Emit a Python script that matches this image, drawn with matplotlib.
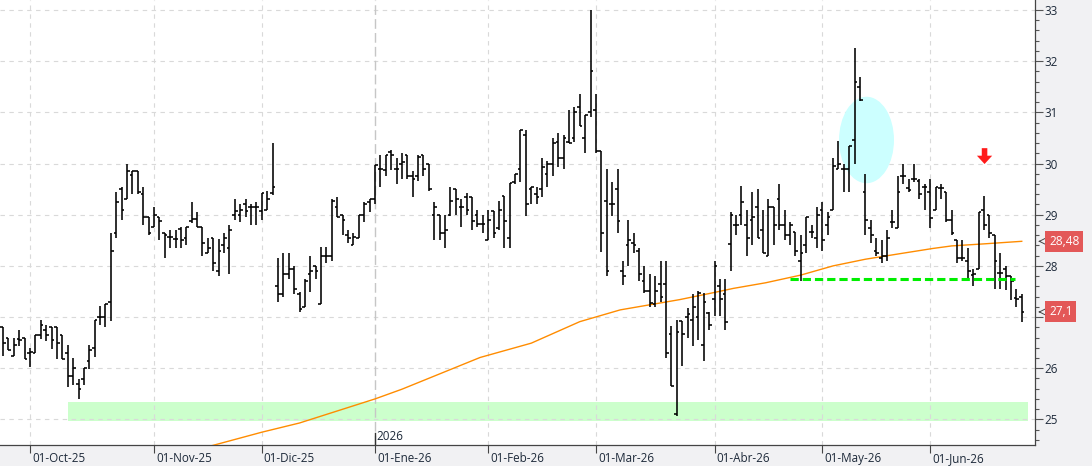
import numpy as np
import pandas as pd
import matplotlib
matplotlib.use('Agg')
import matplotlib.pyplot as plt
import matplotlib.transforms as mtransforms
from matplotlib.patches import Ellipse, Rectangle
from matplotlib.ticker import MultipleLocator

plt.rcParams['font.family'] = ['Open Sans', 'DejaVu Sans']

# trading calendar (market holidays skipped)
holidays = ['2025-12-25', '2025-12-26', '2026-01-01', '2026-04-03', '2026-04-06', '2026-05-01']
dates = pd.bdate_range('2025-09-24', '2026-06-24', freq='C', holidays=holidays)

month_labels = ['01-Oct-25', '01-Nov-25', '01-Dic-25', '01-Ene-26', '01-Feb-26',
                '01-Mar-26', '01-Abr-26', '01-May-26', '01-Jun-26']
price_ticks = [25, 26, 27, 28, 29, 30, 31, 32, 33]

# daily OHLC
opens = [26.80, 26.60, 26.23, 26.58, 26.60, 26.30, 26.30, 26.65, 26.75, 26.80,
         26.80, 26.65, 26.30, 25.85, 25.69, 25.78, 26.14, 26.39, 27.00, 27.00,
         27.29, 28.65, 29.51, 29.31, 29.77, 29.86, 29.41, 28.96, 28.75, 28.96,
         28.65, 28.56, 28.52, 28.72, 28.55, 28.87, 28.91, 28.75, 28.25, 28.55,
         27.90, 28.41, 28.35, 29.00, 29.00, 29.20, 29.15, 29.15, 29.07, 29.09,
         29.42, 27.60, 27.46, 27.84, 27.94, 27.46, 27.19, 27.84, 28.00, 27.26,
         28.19, 28.19, 29.16, 29.00, 28.60, 28.41, 28.55, 29.00, 29.25, 29.31,
         29.90, 29.87, 30.23, 29.90, 30.00, 30.16, 29.76, 29.76, 30.16, 30.00,
         29.00, 29.00, 28.65, 29.00, 29.51, 29.15, 29.35, 29.35, 29.00, 28.81,
         28.51, 29.08, 28.74, 29.36, 28.54, 29.63, 29.90, 30.56, 29.50, 29.41,
         29.50, 29.80, 30.00, 30.43, 30.10, 30.43, 30.50, 31.10, 30.50, 31.00,
         31.05, 30.25, 29.26, 29.20, 29.50, 27.90, 28.41, 28.45, 28.30, 27.70,
         27.50, 27.26, 27.65, 27.65, 26.66, 25.11, 26.92, 27.00, 26.95, 27.00,
         26.46, 27.07, 27.35, 27.60, 27.46, 28.42, 28.80, 29.00, 28.80, 28.90,
         29.15, 28.70, 28.19, 29.15, 29.31, 28.80, 28.60, 28.66, 28.10, 28.40,
         28.66, 28.55, 29.10, 28.80, 29.09, 29.90, 29.90, 29.90, 30.45, 31.50,
         29.45, 28.74, 28.29, 28.16, 28.20, 28.85, 28.74, 29.76, 29.52, 29.70,
         29.65, 29.54, 29.45, 29.10, 29.52, 29.44, 28.89, 28.51, 28.15, 28.09,
         27.83, 27.93, 29.10, 29.00, 28.60, 27.86, 27.93, 27.80, 27.37, 27.40]

highs = [26.80, 26.60, 26.60, 26.75, 26.60, 26.39, 26.65, 26.94, 26.85, 26.80,
         26.80, 26.65, 26.46, 26.20, 25.78, 26.00, 26.45, 26.95, 27.21, 27.26,
         28.65, 29.45, 29.54, 30.00, 29.86, 29.86, 29.55, 28.96, 29.16, 28.96,
         28.65, 28.71, 28.71, 28.75, 28.75, 29.25, 29.06, 28.75, 28.55, 28.55,
         28.52, 28.65, 28.80, 29.31, 29.20, 29.31, 29.20, 29.25, 29.42, 29.46,
         30.41, 28.16, 28.26, 28.26, 27.99, 27.48, 27.75, 28.20, 28.00, 28.36,
         28.36, 29.31, 29.35, 29.00, 28.71, 28.65, 29.00, 29.25, 29.31, 29.97,
         30.16, 30.16, 30.26, 30.10, 30.20, 30.16, 29.86, 30.16, 30.16, 30.00,
         29.25, 29.00, 29.00, 29.55, 29.51, 29.31, 29.42, 29.35, 29.10, 29.00,
         29.10, 29.08, 29.26, 29.36, 29.62, 29.80, 30.66, 30.66, 29.54, 29.54,
         30.10, 30.04, 30.50, 30.60, 30.56, 31.05, 31.10, 31.35, 30.95, 33.00,
         31.35, 30.25, 29.90, 29.64, 29.90, 28.10, 28.90, 28.64, 28.35, 28.00,
         27.85, 27.80, 28.10, 28.10, 26.82, 26.95, 26.92, 27.18, 27.46, 27.50,
         27.47, 27.10, 28.10, 27.75, 27.75, 29.05, 29.00, 29.56, 29.10, 29.45,
         29.50, 29.10, 29.30, 29.15, 29.60, 29.10, 28.85, 28.66, 28.60, 28.96,
         28.80, 29.15, 29.25, 29.05, 30.11, 30.44, 30.00, 30.35, 32.26, 31.70,
         29.80, 28.90, 28.55, 28.51, 28.70, 29.10, 29.75, 30.00, 29.70, 30.00,
         29.70, 29.60, 29.70, 29.54, 29.60, 29.44, 29.10, 28.51, 28.51, 28.35,
         27.93, 29.05, 29.36, 29.00, 28.60, 28.25, 27.99, 27.80, 27.55, 27.46]

lows = [26.23, 26.35, 26.23, 26.44, 26.19, 26.03, 26.30, 26.57, 26.54, 26.38,
        26.19, 26.19, 25.64, 25.68, 25.39, 25.68, 25.99, 26.22, 26.85, 26.80,
        26.93, 28.54, 28.90, 29.31, 29.41, 29.41, 28.79, 28.60, 28.75, 28.50,
        28.15, 28.35, 28.35, 28.35, 28.40, 28.84, 28.75, 28.19, 28.25, 27.90,
        27.80, 28.25, 27.84, 28.89, 28.86, 28.95, 28.79, 28.80, 28.90, 29.09,
        29.39, 27.29, 27.39, 27.75, 27.45, 27.09, 27.19, 27.48, 27.75, 27.26,
        28.06, 28.10, 28.96, 28.60, 28.45, 28.41, 28.55, 28.86, 29.06, 29.20,
        29.55, 29.76, 29.88, 29.60, 29.70, 29.70, 29.35, 29.66, 29.76, 29.46,
        28.50, 28.50, 28.35, 28.97, 29.00, 28.75, 29.00, 28.71, 28.75, 28.64,
        28.51, 28.54, 28.70, 28.35, 28.35, 29.60, 29.63, 28.98, 29.20, 29.20,
        29.34, 29.54, 29.75, 29.94, 29.90, 30.40, 30.43, 30.74, 30.20, 30.90,
        30.20, 28.28, 27.80, 28.98, 28.64, 27.63, 28.00, 28.25, 27.70, 27.47,
        27.20, 27.20, 27.30, 26.20, 25.65, 25.07, 26.04, 26.60, 26.43, 26.55,
        26.14, 26.74, 27.03, 27.03, 26.74, 27.90, 28.60, 28.80, 28.19, 28.40,
        28.55, 28.25, 28.19, 28.40, 28.70, 28.50, 28.40, 28.20, 27.70, 28.25,
        28.55, 28.35, 28.30, 28.60, 29.09, 29.90, 29.44, 29.44, 30.00, 31.22,
        28.60, 28.45, 28.20, 28.06, 28.09, 28.74, 28.74, 29.60, 29.44, 29.63,
        29.30, 29.10, 28.74, 29.10, 29.30, 28.86, 28.60, 28.06, 28.09, 27.70,
        27.60, 27.93, 28.70, 28.54, 27.55, 27.55, 27.53, 27.34, 27.20, 26.90]

closes = [26.50, 26.36, 26.46, 26.56, 26.19, 26.31, 26.65, 26.85, 26.65, 26.56,
          26.50, 26.19, 25.85, 26.00, 25.60, 26.00, 26.35, 26.95, 27.00, 27.26,
          28.29, 29.25, 29.10, 29.86, 29.86, 29.45, 28.96, 28.65, 29.00, 28.87,
          28.60, 28.56, 28.52, 28.50, 28.75, 28.91, 28.75, 28.45, 28.35, 28.06,
          28.29, 28.55, 28.71, 29.07, 29.10, 29.07, 29.15, 29.15, 29.42, 29.31,
          29.55, 27.46, 27.84, 27.94, 27.55, 27.16, 27.71, 27.90, 27.90, 28.19,
          28.19, 29.27, 28.96, 28.90, 28.54, 28.56, 29.00, 29.20, 29.30, 29.97,
          29.90, 30.16, 30.16, 29.90, 30.02, 29.76, 29.69, 30.13, 29.90, 29.50,
          29.15, 28.65, 28.71, 29.27, 29.31, 29.15, 29.10, 28.88, 28.81, 28.81,
          28.90, 28.64, 29.10, 28.87, 29.62, 29.80, 30.66, 29.20, 29.54, 29.35,
          29.94, 30.00, 30.40, 30.10, 30.50, 30.40, 31.00, 30.74, 30.95, 31.80,
          30.24, 28.64, 27.90, 29.20, 28.87, 27.80, 28.50, 28.40, 27.85, 27.50,
          27.28, 27.50, 27.40, 26.30, 25.66, 26.70, 26.66, 27.06, 27.20, 27.47,
          27.30, 26.85, 28.00, 27.35, 26.90, 29.00, 28.80, 29.24, 28.55, 28.96,
          28.55, 28.25, 29.15, 28.80, 28.80, 28.60, 28.80, 28.30, 28.25, 28.96,
          28.66, 29.00, 28.50, 28.96, 29.95, 30.00, 29.90, 30.35, 31.60, 31.24,
          28.90, 28.60, 28.25, 28.20, 28.55, 28.85, 29.45, 29.76, 29.49, 29.70,
          29.40, 29.54, 28.94, 29.54, 29.52, 28.89, 28.64, 28.15, 28.15, 27.90,
          27.85, 29.05, 28.80, 28.64, 28.10, 27.86, 27.80, 27.70, 27.35, 27.10]

# long moving average, read at a few bars
ma_idx = [38.5, 48, 55, 69, 74, 88.5, 98, 107, 114.5, 120, 125.5, 131.5, 135.5,
          141.5, 148, 154, 160, 166.5, 172.5, 176, 182, 189]
ma_val = [24.48, 24.75, 24.93, 25.40, 25.59, 26.21, 26.49, 26.91, 27.14, 27.24,
          27.34, 27.47, 27.56, 27.67, 27.82, 28.00, 28.13, 28.24, 28.34, 28.39,
          28.43, 28.48]

# drawn annotations
zone_lo, zone_hi = 24.96, 25.34
zone_from, zone_to = 12, 190.2
support = 27.74
support_from, support_to = 146, 187.7
circle_x, circle_y = 160.2, 30.46
arrow_x, arrow_top, arrow_tip = 182.1, 30.30, 29.99

x = np.arange(len(dates))
starts = [i for i in range(1, len(dates)) if dates[i].month != dates[i - 1].month]
flags = [ma_val[-1], closes[-1]]

fig = plt.figure(figsize=(10.92, 4.66), dpi=100, facecolor='#f1f1f3')
ax = fig.add_axes([0, 21 / 466, 1035 / 1092, 445 / 466])
ax.set_facecolor('white')
ax.set_xlim(-0.57, 191.46)
ax.set_ylim(24.5, 33.195)

# grid
for p in price_ticks:
    ax.axhline(p, color='#d9d9d9', lw=0.8, ls=(0, (4, 4)), zorder=1)
for i in starts:
    if dates[i].month == 1:
        ax.axvline(i, color='#c6c6c6', lw=1.0, ls=(0, (7, 3)), zorder=1)
        ax.plot([i, i], [24.5, 24.74], color='#333333', lw=1.0, zorder=6)
        ax.text(i + 0.35, 24.60, str(dates[i].year), fontsize=8.4, color='#1e2a3a',
                ha='left', va='baseline', zorder=6)
    else:
        ax.axvline(i, color='#d9d9d9', lw=0.8, ls=(0, (4, 4)), zorder=1)

ax.add_patch(Rectangle((zone_from, zone_lo), zone_to - zone_from, zone_hi - zone_lo,
                       fc='#ccffcc', ec='none', zorder=0.5))
ax.add_patch(Ellipse((circle_x, circle_y), 10.2, 1.69, fc='#ccffff', ec='none', zorder=2))

# OHLC bars
ax.vlines(x, lows, highs, color='black', lw=1.15, zorder=4)
ax.hlines(opens, x - 0.5, x, color='black', lw=1.15, zorder=4)
ax.hlines(closes, x, x + 0.5, color='black', lw=1.15, zorder=4)

ax.plot(ma_idx, ma_val, color='#ff8c00', lw=1.0, zorder=3)

ax.plot([support_from, support_to], [support, support], color='#00ee00', lw=2.2,
        ls=(0, (2.7, 1.3)), dash_capstyle='butt', zorder=5)

ax.annotate('', xy=(arrow_x, arrow_tip), xytext=(arrow_x, arrow_top),
            arrowprops=dict(facecolor='#ff1a1a', edgecolor='none', width=4,
                            headwidth=11, headlength=6, shrink=0), zorder=6)

# axes styling
for s in ['left', 'top']:
    ax.spines[s].set_visible(False)
for s in ['right', 'bottom']:
    ax.spines[s].set_color('#444444')
    ax.spines[s].set_linewidth(0.9)

# price labels hidden where a value flag sits on top of them
ylabels = [str(p) if min(abs(p - f) for f in flags) > 0.3 else '' for p in price_ticks]
ax.yaxis.tick_right()
ax.set_yticks(price_ticks)
ax.set_yticklabels(ylabels)
ax.yaxis.set_minor_locator(MultipleLocator(0.2))
ax.tick_params(axis='y', which='major', length=5.5, width=0.8, color='#555555',
               pad=1.5, labelsize=8.4, labelcolor='#1e2a3a')
ax.tick_params(axis='y', which='minor', length=3, width=0.8, color='#555555')

ax.set_xticks(starts)
ax.set_xticklabels(month_labels)
ax.tick_params(axis='x', length=5.8, width=0.8, color='#444444', pad=-0.8,
               labelsize=8.4, labelcolor='#1e2a3a')
shift = mtransforms.ScaledTranslation(0.02, 0, fig.dpi_scale_trans)
for lab in ax.get_xticklabels():
    lab.set_ha('left')
    lab.set_transform(lab.get_transform() + shift)

# last value flags on the price axis
trans = mtransforms.blended_transform_factory(ax.transAxes, ax.transData)
for v in flags:
    txt = ('%.2f' % v).rstrip('0').replace('.', ',')
    ax.text(1.0135, v, txt, transform=trans, fontsize=8.6, color='white',
            ha='left', va='center', clip_on=False, zorder=7,
            bbox=dict(boxstyle='square,pad=0.33', fc='#e35858', ec='none'))
    ax.annotate('', xy=(1.0005, v), xytext=(1.0075, v), xycoords=trans,
                arrowprops=dict(arrowstyle='->', color='#444444', lw=0.7))

fig.savefig('out.png', dpi=100, facecolor=fig.get_facecolor())
